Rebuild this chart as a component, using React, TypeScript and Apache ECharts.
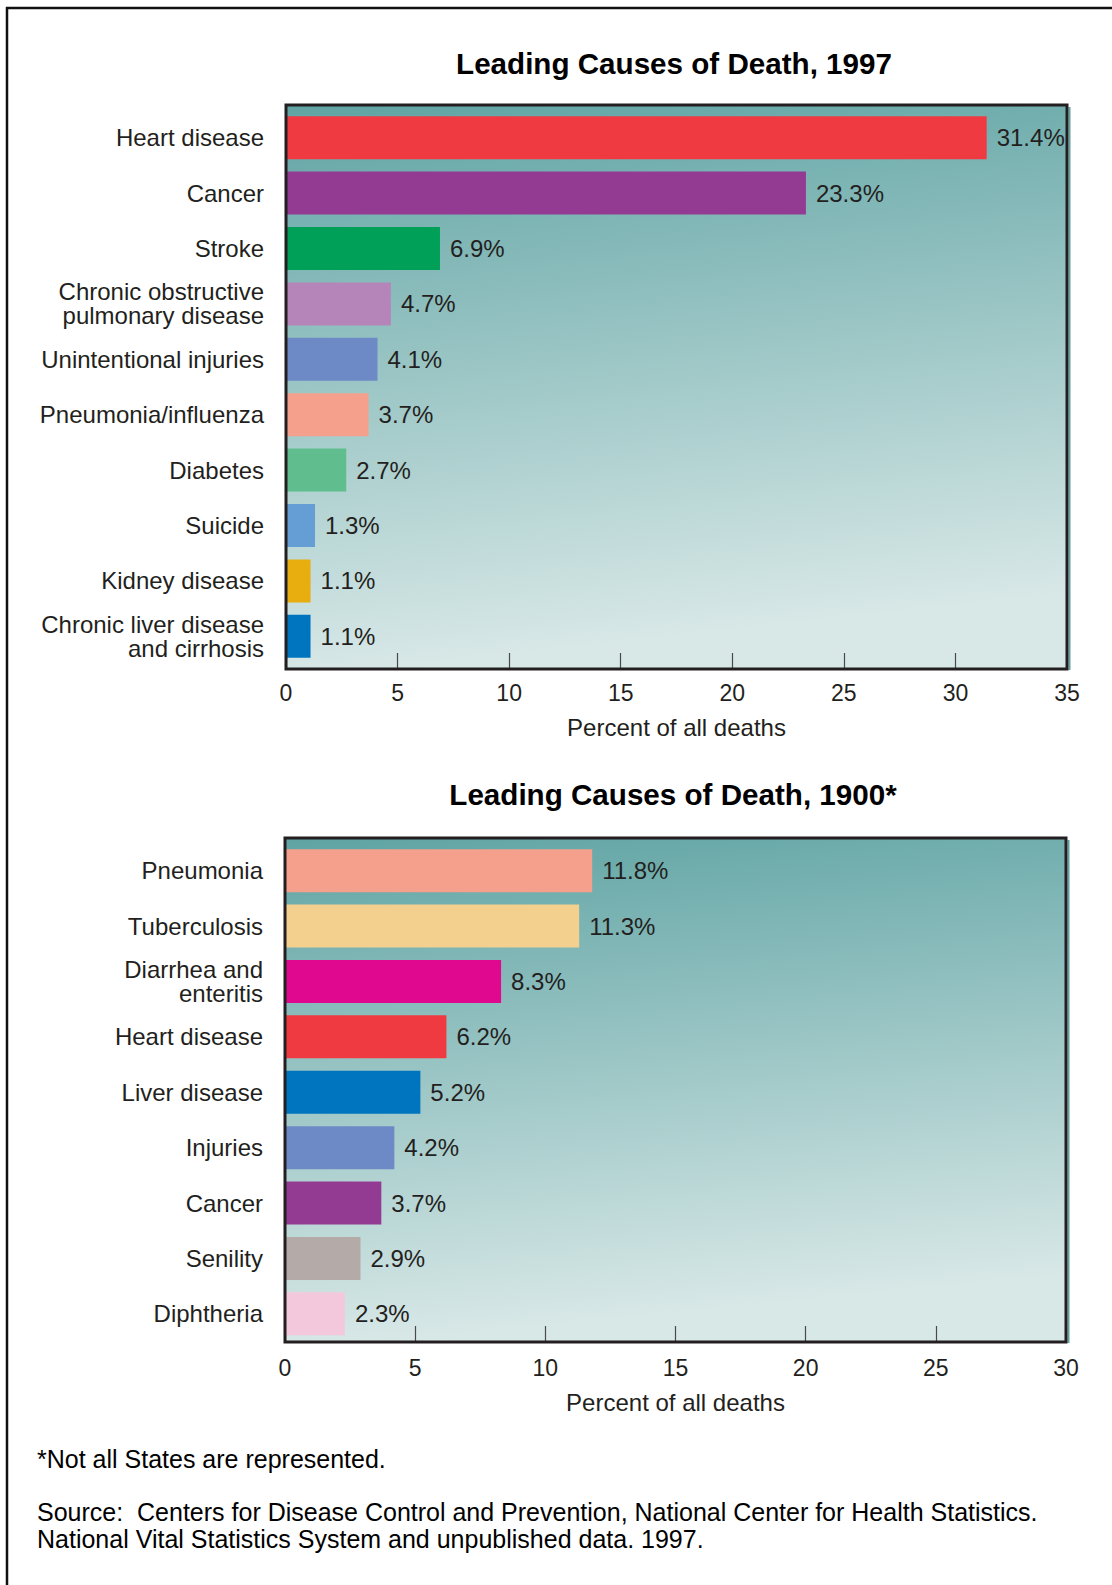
import React, { useEffect, useRef } from "react";
import * as echarts from "echarts";

const FONT = "'Liberation Sans', Arial, Helvetica, sans-serif";
const INK = "#231f20";

const title1997 = "Leading Causes of Death, 1997";
const causes1997 = [
  "Heart disease",
  "Cancer",
  "Stroke",
  "Chronic obstructive\npulmonary disease",
  "Unintentional injuries",
  "Pneumonia/influenza",
  "Diabetes",
  "Suicide",
  "Kidney disease",
  "Chronic liver disease\nand cirrhosis",
];
const values1997 = [31.4, 23.3, 6.9, 4.7, 4.1, 3.7, 2.7, 1.3, 1.1, 1.1];
const colors1997 = [
  "#ef3a42",
  "#933b93",
  "#00a058",
  "#b585b9",
  "#6d8ac6",
  "#f5a08c",
  "#60bd8e",
  "#659ed4",
  "#e8ae10",
  "#0075bf",
];

const title1900 = "Leading Causes of Death, 1900*";
const causes1900 = [
  "Pneumonia",
  "Tuberculosis",
  "Diarrhea and\nenteritis",
  "Heart disease",
  "Liver disease",
  "Injuries",
  "Cancer",
  "Senility",
  "Diphtheria",
];
const values1900 = [11.8, 11.3, 8.3, 6.2, 5.2, 4.2, 3.7, 2.9, 2.3];
const colors1900 = [
  "#f5a08c",
  "#f4d08e",
  "#e0088f",
  "#ef3a42",
  "#0075bf",
  "#6d8ac6",
  "#933b93",
  "#b4aba8",
  "#f4c8dc",
];

const axisMax1997 = 35;
const axisMax1900 = 30;
const axisStep = 5;
const axisName = "Percent of all deaths";
const footnote = "*Not all States are represented.";
const sourceLines = [
  "Source:  Centers for Disease Control and Prevention, National Center for Health Statistics.",
  "National Vital Statistics System and unpublished data. 1997.",
];

// plot frames (background + border) and the inner grids holding the bars
const frame1 = { x: 286, y: 105, w: 781, h: 564 };
const frame2 = { x: 285, y: 838, w: 781, h: 504 };
const grid1 = { top: 110, height: 554 };
const grid2 = { top: 843, height: 498.5 };

function bgGradient() {
  return new echarts.graphic.LinearGradient(0, 0, 0.15, 1, [
    { offset: 0, color: "#60a4a4" },
    { offset: 1, color: "#d8e8e7" },
  ]);
}

function frameEls(f: { x: number; y: number; w: number; h: number }) {
  return [
    {
      type: "rect",
      silent: true,
      z: -10,
      shape: { x: f.x, y: f.y, width: f.w, height: f.h },
      style: { fill: bgGradient() },
    },
    {
      type: "line",
      silent: true,
      z: 100,
      shape: { x1: f.x + f.w + 2.5, y1: f.y + 2, x2: f.x + f.w + 2.5, y2: f.y + f.h + 1 },
      style: { stroke: "#5f9f9f", lineWidth: 2 },
    },
    {
      type: "rect",
      silent: true,
      z: 101,
      shape: { x: f.x, y: f.y, width: f.w, height: f.h },
      style: { fill: "none", stroke: INK, lineWidth: 3 },
    },
  ];
}

function gridDef(f: { x: number; w: number }, g: { top: number; height: number }) {
  return {
    left: f.x,
    top: g.top,
    width: f.w,
    height: g.height,
    show: false,
    containLabel: false,
  };
}

function xAxisDef(gridIndex: number, max: number, offset: number, nameGap: number, labelMargin: number) {
  return {
    type: "value",
    gridIndex,
    min: 0,
    max,
    interval: axisStep,
    offset,
    name: axisName,
    nameLocation: "middle",
    nameGap,
    nameTextStyle: { fontFamily: FONT, fontSize: 24, color: INK },
    axisLine: { show: false },
    axisTick: { show: true, inside: true, length: 16, lineStyle: { color: "#4a4a4a", width: 1.2 } },
    splitLine: { show: false },
    axisLabel: {
      fontFamily: FONT,
      fontSize: 23,
      color: INK,
      margin: labelMargin,
      showMinLabel: true,
      showMaxLabel: true,
    },
  };
}

function yAxisDef(gridIndex: number, cats: string[]) {
  return {
    type: "category",
    gridIndex,
    data: cats,
    inverse: true,
    axisLine: { show: false },
    axisTick: { show: false },
    splitLine: { show: false },
    axisLabel: {
      fontFamily: FONT,
      fontSize: 24,
      lineHeight: 24,
      color: INK,
      margin: 22,
      interval: 0,
    },
  };
}

function seriesDef(idx: number, vals: number[], colors: string[]) {
  return {
    type: "bar",
    xAxisIndex: idx,
    yAxisIndex: idx,
    barCategoryGap: "22.4%",
    data: vals.map((v, i) => ({ value: v, itemStyle: { color: colors[i] } })),
    label: {
      show: true,
      position: "right",
      distance: 10,
      fontFamily: FONT,
      fontSize: 24,
      color: INK,
      formatter: (p: any) => `${p.value}%`,
    },
  };
}

function textEl(text: string, x: number, y: number, font: string, align: string) {
  return {
    type: "text",
    x,
    y,
    silent: true,
    style: {
      text,
      font,
      fill: "#000",
      align,
      verticalAlign: "middle",
      textAlign: align,
      textVerticalAlign: "middle",
    },
  };
}

export default function App() {
  const ref = useRef<HTMLDivElement>(null);

  useEffect(() => {
    document.body.style.margin = "0";
    if (!ref.current) return;
    const chart = echarts.init(ref.current, undefined, { renderer: "svg" });
    chart.setOption({
      animation: false,
      backgroundColor: "#ffffff",
      grid: [gridDef(frame1, grid1), gridDef(frame2, grid2)],
      xAxis: [
        xAxisDef(0, axisMax1997, frame1.y + frame1.h - (grid1.top + grid1.height), 46, 12),
        xAxisDef(1, axisMax1900, frame2.y + frame2.h - (grid2.top + grid2.height), 48, 14),
      ],
      yAxis: [yAxisDef(0, causes1997), yAxisDef(1, causes1900)],
      series: [seriesDef(0, values1997, colors1997), seriesDef(1, values1900, colors1900)],
      graphic: [
        ...frameEls(frame1),
        ...frameEls(frame2),
        {
          type: "line",
          silent: true,
          shape: { x1: 6, y1: 8, x2: 1112, y2: 8 },
          style: { stroke: "#111", lineWidth: 2.5 },
        },
        {
          type: "line",
          silent: true,
          shape: { x1: 7, y1: 7, x2: 7, y2: 1585 },
          style: { stroke: "#111", lineWidth: 2.5 },
        },
        textEl(title1997, 674, 63, `bold 29.6px ${FONT}`, "center"),
        textEl(title1900, 673, 794, `bold 29.6px ${FONT}`, "center"),
        textEl(footnote, 37, 1459, `25px ${FONT}`, "left"),
        textEl(sourceLines[0], 37, 1512, `25px ${FONT}`, "left"),
        textEl(sourceLines[1], 37, 1539, `25px ${FONT}`, "left"),
      ],
    });
    return () => chart.dispose();
  }, []);

  return <div ref={ref} style={{ width: 1112, height: 1585 }} />;
}
